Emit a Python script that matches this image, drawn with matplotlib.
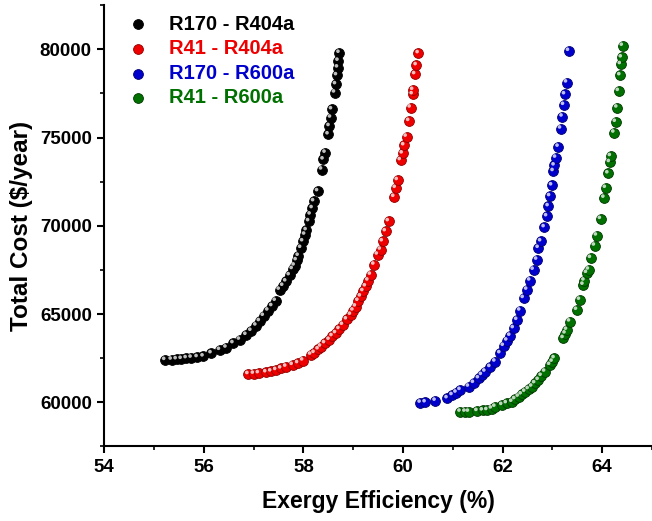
import matplotlib
matplotlib.use("Agg")
import matplotlib.pyplot as plt
from matplotlib.ticker import MultipleLocator
from matplotlib.transforms import offset_copy

# ---- data ----
r170_r404a_x = [55.22, 55.35, 55.45, 55.55, 55.65, 55.75, 55.87, 55.99, 56.15, 56.32, 56.45, 56.59,
                56.72, 56.85, 56.95, 57.05, 57.12, 57.20, 57.29, 57.37, 57.44, 57.52, 57.59, 57.65,
                57.72, 57.78, 57.82, 57.86, 57.90, 57.95, 57.99, 58.03, 58.06, 58.11, 58.14, 58.18,
                58.21, 58.29, 58.37, 58.40, 58.44, 58.50, 58.52, 58.55, 58.57, 58.63, 58.65, 58.67,
                58.69, 58.70, 58.72]
r170_r404a_y = [62400, 62420, 62440, 62460, 62500, 62530, 62560, 62600, 62780, 62970, 63100, 63350,
                63550, 63820, 64050, 64350, 64600, 64900, 65200, 65450, 65750, 66380, 66600, 66850,
                67200, 67550, 67750, 68050, 68300, 68750, 69120, 69500, 69750, 70260, 70640, 71000,
                71390, 71960, 73190, 73760, 74140, 75180, 75650, 76130, 76600, 77550, 78020, 78530,
                78970, 79350, 79800]

r41_r404a_x = [56.89, 57.00, 57.10, 57.25, 57.35, 57.45, 57.55, 57.65, 57.78, 57.89, 57.99, 58.15,
               58.22, 58.30, 58.35, 58.43, 58.52, 58.58, 58.65, 58.72, 58.79, 58.87, 58.95, 59.00,
               59.05, 59.10, 59.15, 59.20, 59.25, 59.30, 59.35, 59.42, 59.49, 59.55, 59.59, 59.65,
               59.71, 59.82, 59.85, 59.89, 59.95, 59.99, 60.02, 60.07, 60.12, 60.15, 60.19, 60.20,
               60.24, 60.27, 60.31]
r41_r404a_y = [61600, 61620, 61650, 61700, 61750, 61830, 61920, 62020, 62120, 62220, 62370, 62700,
               62800, 63000, 63160, 63350, 63540, 63750, 63920, 64150, 64390, 64700, 64960, 65200,
               65430, 65750, 66000, 66300, 66570, 66900, 67230, 67800, 68370, 68650, 69120, 69690,
               70260, 71640, 72150, 72590, 73720, 74100, 74560, 75050, 75940, 76700, 77450, 77700,
               78590, 79100, 79780]

r170_r600a_x = [60.35, 60.45, 60.65, 60.89, 60.99, 61.07, 61.15, 61.32, 61.42, 61.52, 61.58, 61.65,
                61.75, 61.85, 61.95, 62.02, 62.09, 62.15, 62.22, 62.29, 62.35, 62.42, 62.49, 62.55,
                62.62, 62.69, 62.72, 62.77, 62.84, 62.89, 62.92, 62.95, 62.99, 63.02, 63.04, 63.07,
                63.12, 63.17, 63.20, 63.23, 63.25, 63.29, 63.33]
r170_r600a_y = [59980, 60000, 60090, 60230, 60410, 60550, 60700, 60890, 61100, 61360, 61550, 61740,
                62000, 62310, 62780, 63200, 63500, 63770, 64200, 64670, 65200, 65910, 66380, 66900,
                67510, 68080, 68750, 69120, 69920, 70540, 71110, 71680, 72290, 73100, 73420, 73860,
                74480, 75510, 76190, 76850, 77450, 78120, 79910]

r41_r600a_x = [61.15, 61.25, 61.32, 61.49, 61.60, 61.69, 61.78, 61.85, 61.99, 62.08, 62.19, 62.25,
               62.32, 62.38, 62.45, 62.52, 62.59, 62.65, 62.72, 62.78, 62.85, 62.95, 63.00, 63.04,
               63.22, 63.26, 63.29, 63.35, 63.49, 63.55, 63.62, 63.64, 63.69, 63.73, 63.77, 63.85,
               63.89, 63.97, 64.04, 64.07, 64.12, 64.15, 64.17, 64.24, 64.27, 64.30, 64.33, 64.36,
               64.37, 64.39, 64.41]
r41_r600a_y = [59470, 59470, 59470, 59510, 59540, 59560, 59650, 59750, 59850, 59950, 60030, 60180,
               60320, 60450, 60600, 60750, 60890, 61080, 61270, 61500, 61740, 62120, 62300, 62500,
               63640, 63900, 64110, 64580, 65240, 65810, 66660, 66900, 67330, 67520, 68180, 68880,
               69450, 70390, 71590, 72150, 72970, 73610, 73950, 75280, 75890, 76700, 77640, 78530,
               79160, 79540, 80200]

labels = ["R170 - R404a", "R41 - R404a", "R170 - R600a", "R41 - R600a"]
colors = ["#000000", "#ee0000", "#0000cc", "#007000"]
dark = ["#000000", "#900000", "#000070", "#003800"]
series = [(r170_r404a_x, r170_r404a_y), (r41_r404a_x, r41_r404a_y),
          (r170_r600a_x, r170_r600a_y), (r41_r600a_x, r41_r600a_y)]

plt.rcParams['font.family'] = ['Liberation Sans', 'DejaVu Sans']
plt.rcParams['font.weight'] = 'bold'

fig = plt.figure(figsize=(6.52, 5.21), dpi=100)
ax = fig.add_axes([0.16, 0.143, 0.84, 0.847])

for (xs, ys), c, d, lab in zip(series, colors, dark, labels):
    ax.scatter(xs, ys, s=50, color=c, edgecolors=d, linewidths=0.6, zorder=3, label=lab)
    hl = offset_copy(ax.transData, fig=fig, x=-1.0, y=1.2, units='points')
    ax.scatter(xs, ys, s=7, color='white', alpha=0.75, edgecolors='none', zorder=4, transform=hl)

ax.set_xlim(54, 65)
ax.set_ylim(57500, 82500)
ax.xaxis.set_major_locator(MultipleLocator(2))
ax.xaxis.set_minor_locator(MultipleLocator(1))
ax.yaxis.set_major_locator(MultipleLocator(5000))
ax.yaxis.set_minor_locator(MultipleLocator(2500))
ax.spines['top'].set_visible(False)
ax.spines['right'].set_visible(False)
for s in ['left', 'bottom']:
    ax.spines[s].set_linewidth(1.5)
ax.tick_params(which='major', direction='out', length=5, width=1.5, labelsize=13.5, pad=4)
ax.tick_params(which='minor', direction='out', length=3, width=1.2)
for t in ax.get_xticklabels() + ax.get_yticklabels():
    t.set_fontweight('bold')

ax.set_xlabel("Exergy Efficiency (%)", fontsize=16.5, fontweight='bold', labelpad=10)
ax.set_ylabel("Total Cost ($/year)", fontsize=17.5, fontweight='bold', labelpad=5)

leg = ax.legend(loc='upper left', bbox_to_anchor=(-0.008, 1.02), frameon=False,
                fontsize=14.5, handletextpad=0.55, labelspacing=0.28, markerscale=1.0,
                scatterpoints=1)
for txt, c in zip(leg.get_texts(), colors):
    txt.set_color(c)
    txt.set_fontweight('bold')

fig.savefig("out.png", dpi=100)
